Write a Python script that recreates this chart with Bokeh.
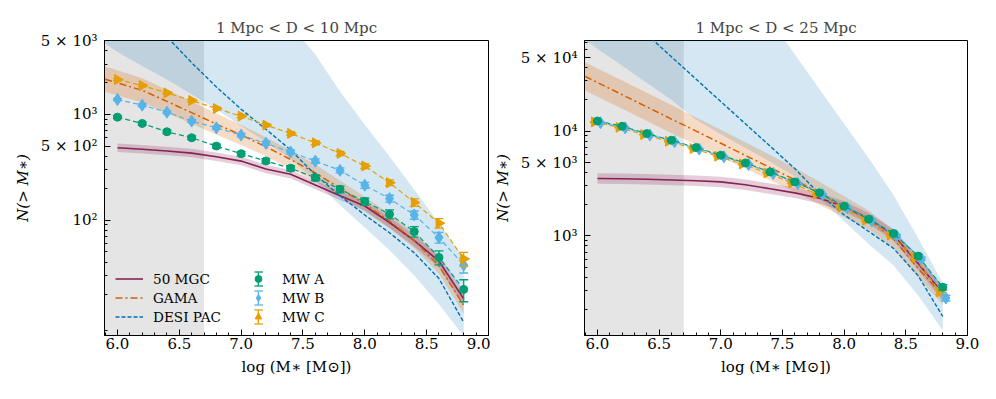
import math
from bokeh.plotting import figure
from bokeh.layouts import row
from bokeh.models import (Range1d, FixedTicker, SingleIntervalTicker, PrintfTickFormatter,
                          BoxAnnotation, Legend, LegendItem)
from bokeh.embed import file_html
from bokeh.resources import INLINE

FONT = "DejaVu Serif"
WINE = "#882255"
VERM = "#D55E00"
DBLUE = "#0072B2"
GREEN = "#009E73"
SKY = "#56B4E9"
ORANGE = "#E69F00"
NAN = float("nan")

# ---------------- data ----------------
MW_X = [6.0, 6.2, 6.4, 6.6, 6.8, 7.0, 7.2, 7.4, 7.6, 7.8, 8.0, 8.2, 8.4, 8.6, 8.8]
MODEL_X = [5.9, 6.0, 6.2, 6.4, 6.6, 6.8, 7.0, 7.2, 7.4, 7.6, 7.8, 8.0, 8.2, 8.4, 8.6, 8.8]
MASK_EDGE = 6.7

# left panel: 1 Mpc < D < 10 Mpc
L_MGC = [484, 468, 451, 431, 398, 362, 305, 272, 215, 170, 136, 95, 64, 41, 18]
L_MGC_W = [0.04, 0.04, 0.04, 0.04, 0.04, 0.04, 0.04, 0.04, 0.04, 0.04, 0.045, 0.05, 0.055, 0.06, 0.07]
L_GAMA = [2150, 1990, 1690, 1330, 1040, 810, 640, 495, 375, 280, 200, 142, 98, 64, 37, 15.6]
L_GAMA_W = [0.12, 0.12, 0.115, 0.11, 0.105, 0.1, 0.095, 0.09, 0.085, 0.08, 0.075, 0.07, 0.07, 0.07, 0.075, 0.08]
L_DESI = [18000, 14500, 8500, 5430, 3090, 1820, 1120, 725, 462, 269, 170, 112, 76, 49, 28, 10.8]
L_DESI_LO = [4700, 3890, 2880, 2140, 1550, 1120, 776, 550, 380, 234, 138, 85, 52, 30, 16, 8]
L_DESI_HI = [150000, 120000, 80000, 52000, 34000, 22000, 15000, 10500, 7000, 3700, 1650, 800, 400, 195, 93, 44]
L_MWA = [943, 822, 686, 602, 502, 425, 363, 310, 252, 196, 150, 114, 78, 44.4, 22.1]
L_MWA_E = [30, 28, 26, 24, 22, 20, 19, 17, 16, 14, 12, 11, 9, 6.7, 5.2]
L_MWB = [1385, 1224, 1051, 865, 748, 638, 533, 441, 362, 296, 214, 160, 112, 68.5, 37.6]
L_MWB_E = [36, 34, 31, 28, 26, 24, 22, 20, 18, 16, 14, 12, 10, 8, 6]
L_MWC = [2138, 1879, 1599, 1355, 1139, 964, 793, 662, 539, 428, 325, 226, 147, 93.7, 43]
L_MWC_E = [45, 42, 38, 35, 32, 30, 27, 25, 22, 20, 17, 14, 12, 9.5, 6.5]
L_YRANGE = (8.1, 5010)
L_TICKS = [100, 500, 1000, 5000]
L_LABELS = ["10²", "5 × 10²", "10³", "5 × 10³"]

# right panel: 1 Mpc < D < 25 Mpc
R_MGC = [3520, 3500, 3465, 3410, 3355, 3270, 3070, 2815, 2570, 2285, 1900, 1465, 1016, 546, 283]
R_MGC_W = [0.05, 0.05, 0.05, 0.05, 0.05, 0.05, 0.05, 0.05, 0.05, 0.05, 0.05, 0.05, 0.055, 0.06, 0.07]
R_GAMA = [33200, 29000, 22200, 17000, 13000, 9980, 7640, 5850, 4480, 3430, 2550, 1890, 1410, 940, 488, 272]
R_GAMA_W = [0.135, 0.135, 0.135, 0.135, 0.135, 0.13, 0.13, 0.125, 0.12, 0.115, 0.11, 0.1, 0.09, 0.085, 0.085, 0.09]
R_DESI = [290000, 230000, 139000, 83500, 51000, 31200, 19100, 11700, 7160, 4380, 2510, 1585, 1100, 760, 417, 170]
R_DESI_LO = [73500, 61000, 41900, 28800, 19800, 12800, 9300, 6900, 5100, 3700, 2300, 1380, 832, 525, 269, 126]
R_DESI_HI = [3000000, 2500000, 1700000, 1150000, 780000, 520000, 350000, 235000, 115000, 54000, 25000, 11700, 5500, 2450, 955, 355]
R_MWA = [12450, 11090, 9445, 8157, 6950, 5870, 4960, 4070, 3270, 2570, 1920, 1442, 1054, 641, 323]
R_MWA_E = [110, 105, 97, 90, 83, 77, 70, 64, 57, 51, 44, 38, 32, 25, 20]
R_MWB = [12000, 10700, 9150, 7900, 6720, 5680, 4800, 3930, 3160, 2480, 1850, 1390, 1000, 605, 255]
R_MWB_E = [110, 103, 96, 89, 82, 75, 69, 63, 56, 50, 43, 37, 32, 25, 16]
R_MWC = [12200, 10850, 9250, 7980, 6800, 5740, 4850, 3980, 3200, 2510, 1880, 1410, 1020, 620, 292]
R_MWC_E = [110, 104, 96, 89, 82, 76, 70, 63, 57, 50, 43, 38, 32, 25, 17]
R_YRANGE = (112, 73000)
R_TICKS = [1000, 5000, 10000, 50000]
R_LABELS = ["10³", "5 × 10³", "10⁴", "5 × 10⁴"]

MINOR_MULT = [2, 3, 4, 5, 6, 7, 8, 9]
DECADES = [1, 10, 100, 1000, 10000, 100000]


def band(vals, widths):
    lo = [v * 10 ** (-w) for v, w in zip(vals, widths)]
    hi = [v * 10 ** w for v, w in zip(vals, widths)]
    return lo, hi


def style_axis(ax):
    ax.major_tick_in = 6
    ax.major_tick_out = 0
    ax.minor_tick_in = 3
    ax.minor_tick_out = 0
    ax.major_tick_line_color = "black"
    ax.minor_tick_line_color = "black"
    ax.axis_line_color = "black"
    ax.major_label_text_font = FONT
    ax.major_label_text_font_size = "15px"
    ax.major_label_text_color = "black"
    ax.axis_label_text_font = FONT
    ax.axis_label_text_font_size = "15px"
    ax.axis_label_text_color = "black"
    ax.axis_label_text_font_style = "normal"


def legend_box(items, loc, glyph_width, standoff):
    return Legend(items=items, location=loc, glyph_width=glyph_width, label_standoff=standoff,
                  padding=0, margin=0, spacing=2, label_height=17, glyph_height=17,
                  border_line_color=None, background_fill_alpha=0,
                  label_text_font=FONT, label_text_font_size="13.6px",
                  label_text_color="black")


def build(title, yrange, ticks, labels, mgc, mgc_w, gama, gama_w, desi, desi_lo, desi_hi,
          mw, width, bl, br, with_legend):
    p = figure(width=width, height=392, x_range=Range1d(5.895, 9.0005),
               y_range=Range1d(*yrange), y_axis_type="log", output_backend="svg",
               toolbar_location=None, min_border_left=bl, min_border_right=br,
               min_border_top=40, min_border_bottom=57, title=title)
    p.grid.visible = False
    p.outline_line_color = "black"
    p.outline_line_alpha = 1.0
    p.outline_line_width = 1
    p.title.text_font = FONT
    p.title.text_font_size = "15px"
    p.title.text_font_style = "normal"
    p.title.align = "center"
    p.title.standoff = 7

    p.add_layout(BoxAnnotation(right=MASK_EDGE, fill_color="black", fill_alpha=0.1,
                               line_color=None, level="underlay"))

    # bands
    p.varea(x=MODEL_X, y1=desi_lo, y2=desi_hi, fill_color=DBLUE, fill_alpha=0.17)
    glo, ghi = band(gama, gama_w)
    p.varea(x=MODEL_X, y1=glo, y2=ghi, fill_color=VERM, fill_alpha=0.22)
    mlo, mhi = band(mgc, mgc_w)
    p.varea(x=MW_X, y1=mlo, y2=mhi, fill_color=WINE, fill_alpha=0.22)

    r_mgc = p.line(MW_X, mgc, line_color=WINE, line_width=1.6)
    r_gama = p.line(MODEL_X, gama, line_color=VERM, line_width=1.5, line_dash="7 3 2 3")
    r_desi = p.line(MODEL_X, desi, line_color=DBLUE, line_width=1.4, line_dash="4 2")

    mw_items = {}
    for name, vals, errs, color, marker, size, angle, off in mw:
        xs = [x + off for x in MW_X]
        lo = [v - e for v, e in zip(vals, errs)]
        hi = [v + e for v, e in zip(vals, errs)]
        p.line(xs, vals, line_color=color, line_width=1.2, line_dash="5 3")
        p.segment(x0=xs, y0=lo, x1=xs, y1=hi, line_color=color, line_width=1.3)
        p.scatter(xs, lo, marker="dash", size=9, line_color=color, line_width=1.3)
        p.scatter(xs, hi, marker="dash", size=9, line_color=color, line_width=1.3)
        r = p.scatter(xs, vals, marker=marker, size=size, angle=angle,
                      fill_color=color, line_color=color)
        # legend-only glyphs (no data): vertical error bar and its caps
        r_bar = p.vbar(x=[NAN], width=0.01, top=[NAN], bottom=[NAN],
                       fill_color=color, line_color=None)
        r_cap = p.line([NAN], [NAN], line_color=color, line_width=1.3)
        mw_items[name] = (r, r_bar, r_cap)

    p.xaxis.ticker = SingleIntervalTicker(interval=0.5, num_minor_ticks=5)
    p.xaxis.formatter = PrintfTickFormatter(format="%.1f")
    p.xaxis.axis_label = "log (M∗ [M⊙])"
    p.xaxis.major_label_standoff = 2
    p.xaxis.axis_label_standoff = 6
    minors = [m * d for d in DECADES for m in MINOR_MULT]
    p.yaxis.ticker = FixedTicker(ticks=ticks, minor_ticks=minors)
    p.yaxis.major_label_overrides = {t: s for t, s in zip(ticks, labels)}
    p.yaxis.axis_label = "N(> M∗)"
    p.yaxis.major_label_standoff = 7
    p.yaxis.axis_label_standoff = 6
    style_axis(p.xaxis[0])
    style_axis(p.yaxis[0])
    p.yaxis.axis_label_text_font_style = "italic"

    if with_legend:
        order = ["MW A", "MW B", "MW C"]
        leg1 = legend_box([LegendItem(label="50 MGC", renderers=[r_mgc]),
                           LegendItem(label="GAMA", renderers=[r_gama]),
                           LegendItem(label="DESI PAC", renderers=[r_desi])],
                          (11, 10), 28, 10)
        bars = legend_box([LegendItem(label="", renderers=[mw_items[n][1]]) for n in order],
                          (153, 10), 2, 0)
        caps_top = legend_box([LegendItem(label="", renderers=[mw_items[n][2]]) for n in order],
                              (150, 16.8), 9, 0)
        caps_bot = legend_box([LegendItem(label="", renderers=[mw_items[n][2]]) for n in order],
                              (150, 3.2), 9, 0)
        leg2 = legend_box([LegendItem(label=n, renderers=[mw_items[n][0]]) for n in order],
                          (144, 10), 20, 14)
        for lg in (leg1, bars, caps_top, caps_bot, leg2):
            p.add_layout(lg)
    return p


left_mw = [("MW A", L_MWA, L_MWA_E, GREEN, "circle", 8, 0.0, 0.0),
           ("MW B", L_MWB, L_MWB_E, SKY, "diamond", 12, 0.0, 0.0),
           ("MW C", L_MWC, L_MWC_E, ORANGE, "triangle", 10, -math.pi / 2, 0.0)]
right_mw = [("MW C", R_MWC, R_MWC_E, ORANGE, "triangle", 10, -math.pi / 2, -0.025),
            ("MW B", R_MWB, R_MWB_E, SKY, "diamond", 12, 0.0, 0.025),
            ("MW A", R_MWA, R_MWA_E, GREEN, "circle", 8, 0.0, 0.0)]

p1 = build("1 Mpc < D < 10 Mpc", L_YRANGE, L_TICKS, L_LABELS, L_MGC, L_MGC_W, L_GAMA, L_GAMA_W,
           L_DESI, L_DESI_LO, L_DESI_HI, left_mw, 490, 104, 2, True)
p2 = build("1 Mpc < D < 25 Mpc", R_YRANGE, R_TICKS, R_LABELS, R_MGC, R_MGC_W, R_GAMA, R_GAMA_W,
           R_DESI, R_DESI_LO, R_DESI_HI, right_mw, 498, 93, 21, False)

layout = row(p1, p2)
open("out.html", "w").write(file_html(layout, INLINE))
